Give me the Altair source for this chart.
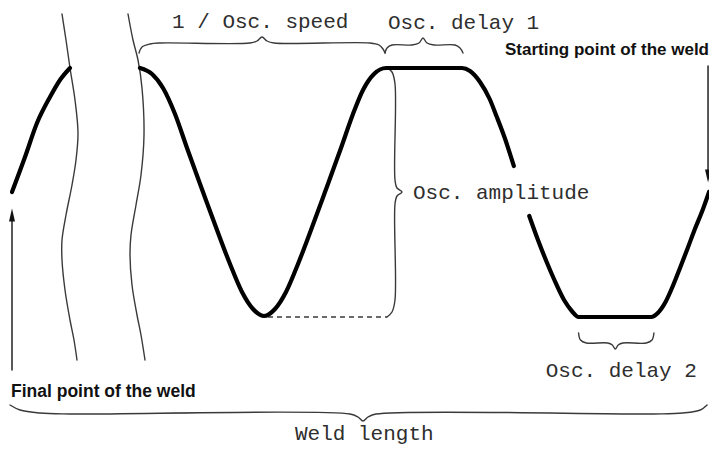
import altair as alt
import pandas as pd

# ---- data (pixel space of the 717x455 picture) ----
# thick oscillation path, three visible pieces
wave_a_x = [12, 25, 37, 50, 60, 70]
wave_a_y = [192, 157, 123, 97, 80, 68]
wave_b_x = [140, 152, 163, 175, 187, 203, 217, 230, 242, 253, 264, 275, 286, 298, 311,
            325, 341, 353, 363, 374, 386, 462, 470, 480, 490, 497, 506, 515]
wave_b_y = [68, 74, 88, 114, 148, 192, 230, 264, 292, 309, 316, 309, 292, 264, 230,
            192, 148, 114, 90, 74, 68, 68, 71, 82, 99, 116, 139, 166]
wave_c_x = [531, 540, 549, 557, 567, 575, 582, 657, 664, 672, 680, 687, 695, 702, 710, 717]
wave_c_y = [216, 240, 262, 280, 300, 311, 317, 317, 313, 302, 285, 268, 248, 230, 211, 192]

# wavy "break" lines
break1_x = [62, 66, 70, 75, 78, 76, 72, 66, 62, 62, 65, 70, 74, 77]
break1_y = [14, 40, 68, 100, 133, 160, 185, 215, 240, 260, 290, 320, 340, 360]
break2_x = [128, 133, 138, 142, 144, 141, 136, 131, 130, 132, 137, 141, 145]
break2_y = [14, 40, 60, 88, 135, 175, 205, 235, 255, 285, 315, 335, 360]

# braces
brace_speed_x = [139, 142, 150, 160, 250, 257, 262, 267, 274, 370, 379, 383, 385]
brace_speed_y = [53, 47, 44, 43, 43, 41, 37, 41, 43, 43, 45, 49, 53]
brace_d1_x = [385, 387, 392, 412, 419, 423, 427, 434, 455, 460, 463]
brace_d1_y = [53, 48, 45, 45, 43, 38, 43, 45, 45, 48, 53]
brace_amp_x = [387, 392, 395, 395, 397, 402, 397, 395, 395, 392, 387]
brace_amp_y = [68, 72, 84, 180, 188, 192, 196, 204, 300, 312, 317]
brace_d2_x = [582, 584, 590, 612, 617, 620, 623, 628, 652, 658, 660]
brace_d2_y = [333, 340, 343, 343, 345, 349, 345, 343, 343, 340, 333]
brace_len_x = [10, 20, 40, 70, 350, 358, 363, 368, 376, 660, 690, 708, 715]
brace_len_y = [405, 410, 413, 414, 414, 417, 421, 417, 414, 414, 413, 410, 405]

# dashed reference at the trough
dash_x = [268, 387]
dash_y = [317, 317]

# arrows
arrow_final_x = [12, 12]
arrow_final_y = [370, 214]
arrow_start_x = [716, 716]
arrow_start_y = [66, 176]
head_up_x, head_up_y = [12], [215]
head_down_x, head_down_y = [716], [176]

# labels
mono_labels = ["1 / Osc. speed", "Osc. delay 1", "Osc. amplitude", "Osc. delay 2", "Weld length"]
mono_x = [172, 388, 413, 548, 295]
mono_y = [28, 29, 199, 377, 440]
start_label, start_x, start_y = ["Starting point of the weld"], [717], [55]
final_label, final_x, final_y = ["Final point of the weld"], [11], [397]

# ---- build ----
# horizontal: piecewise mapping keeps the drawing inside the page's 701 px content box
X = alt.Scale(domain=[8, 480, 717], range=[0, 472, 701])
Y = alt.Scale(domain=[8, 447], range=[0, 439])


def frame(pieces):
    rows = []
    for g, (xs, ys) in enumerate(pieces):
        for i, (a, b) in enumerate(zip(xs, ys)):
            rows.append({"x": a, "y": b, "i": i, "g": g})
    return pd.DataFrame(rows)


def enc():
    return dict(x=alt.X("x:Q", scale=X, axis=None), y=alt.Y("y:Q", scale=Y, axis=None))


def lines(pieces, width, color, interp, dash=None):
    kw = dict(strokeWidth=width, color=color, interpolate=interp, strokeCap="round",
              strokeJoin="round")
    if dash:
        kw["strokeDash"] = dash
        kw["strokeCap"] = "butt"
    return alt.Chart(frame(pieces)).mark_line(**kw).encode(
        order="i:Q", detail="g:N", **enc()
    )


wave = lines([(wave_a_x, wave_a_y), (wave_b_x, wave_b_y), (wave_c_x, wave_c_y)],
             4.2, "#000000", "monotone")
breaks = lines([(break1_x, break1_y), (break2_x, break2_y)], 1.4, "#3a3a3a", "catmull-rom")
braces = lines([(brace_speed_x, brace_speed_y), (brace_d1_x, brace_d1_y),
                (brace_amp_x, brace_amp_y), (brace_d2_x, brace_d2_y),
                (brace_len_x, brace_len_y)], 1.4, "#3a3a3a", "catmull-rom")
dashed = lines([(dash_x, dash_y)], 1.3, "#3a3a3a", "linear", dash=[5, 4])
shafts = lines([(arrow_final_x, arrow_final_y), (arrow_start_x, arrow_start_y)],
               1.5, "#222222", "linear")


def head(xs, ys, path):
    return alt.Chart(pd.DataFrame({"x": xs, "y": ys})).mark_point(
        shape=path, filled=True, size=144, color="#111111", opacity=1
    ).encode(**enc())


head_up = head(head_up_x, head_up_y, "M0,-1.1L0.5,1.1L-0.5,1.1Z")
head_down = head(head_down_x, head_down_y, "M0,1.1L0.5,-1.1L-0.5,-1.1Z")

mono = alt.Chart(pd.DataFrame({"x": mono_x, "y": mono_y, "t": mono_labels})).mark_text(
    font="Liberation Mono", fontSize=21, align="left", baseline="alphabetic", color="#2e2e2e"
).encode(text="t:N", **enc())

start_txt = alt.Chart(pd.DataFrame({"x": start_x, "y": start_y, "t": start_label})).mark_text(
    font="Liberation Sans", fontSize=17, fontWeight="bold", align="right",
    baseline="alphabetic", color="#111111"
).encode(text="t:N", **enc())

final_txt = alt.Chart(pd.DataFrame({"x": final_x, "y": final_y, "t": final_label})).mark_text(
    font="Liberation Sans", fontSize=17.5, fontWeight="bold", align="left",
    baseline="alphabetic", color="#111111"
).encode(text="t:N", **enc())

chart = alt.layer(
    breaks, braces, dashed, shafts, head_up, head_down, wave, mono, start_txt, final_txt
).properties(
    width=701, height=439, autosize="none", padding=0, background="white"
).configure_view(stroke=None)

chart.save("out.html", embed_options={"renderer": "svg", "actions": False})
